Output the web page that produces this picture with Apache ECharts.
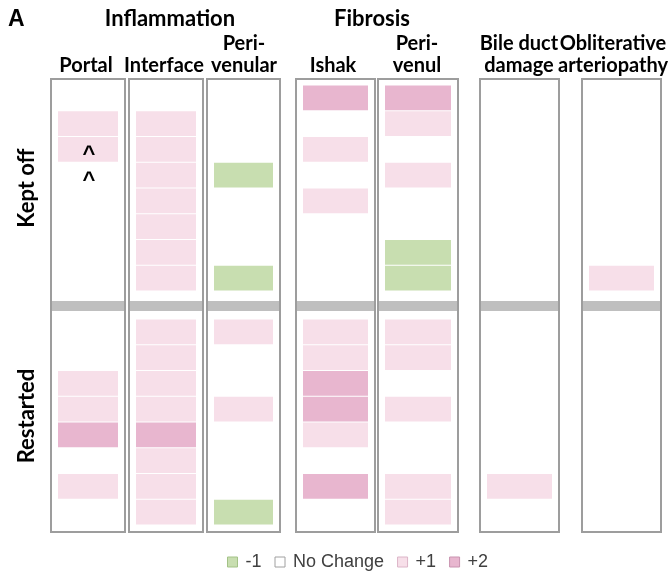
<!DOCTYPE html>
<html>
<head>
<meta charset="utf-8">
<script src="https://cdn.jsdelivr.net/npm/echarts@6/dist/echarts.min.js"></script>
<style>
    html, body { margin: 0; padding: 0; background: #fff; }
    #main { width: 671px; height: 573px; }
</style>
</head>
<body>
<div id="main"></div>
<script>
// 列名
var columns = ['Portal', 'Interface', 'Peri-\nvenular', 'Ishak', 'Peri-\nvenul', 'Bile duct\ndamage', 'Obliterative\narteriopathy'];
var groups = ['Kept off', 'Restarted'];
var levels = ['-1', 'No Change', '+1', '+2'];
var levelValues = [-1, 0, 1, 2];

// 每列每行的变化 (kept off)
var keptOff = [
    [0, 1, 1, 0, 0, 0, 0, 0],
    [0, 1, 1, 1, 1, 1, 1, 1],
    [0, 0, 0, -1, 0, 0, 0, -1],
    [2, 0, 1, 0, 1, 0, 0, 0],
    [2, 1, 0, 1, 0, 0, -1, -1],
    [0, 0, 0, 0, 0, 0, 0, 0],
    [0, 0, 0, 0, 0, 0, 0, 1]
];
// restarted
var restarted = [
    [0, 0, 1, 1, 2, 0, 1, 0],
    [1, 1, 1, 1, 2, 1, 1, 1],
    [1, 0, 0, 1, 0, 0, 0, -1],
    [1, 1, 2, 2, 1, 0, 2, 0],
    [1, 1, 0, 1, 0, 0, 1, 1],
    [0, 0, 0, 0, 0, 0, 1, 0],
    [0, 0, 0, 0, 0, 0, 0, 0]
];
// Portal kept off 的 ^ 标记
var portalNotes = ['', '', '^', '^', '', '', '', ''];

// 布局
var boxLeft = [51, 129, 207, 296, 378, 480, 582];
var boxWidth = [74, 74, 73, 79, 80, 79, 79];
var headerX = [86, 164, 244, 333, 417, 519, 613];
var groupY = [188, 416];
var groupOffset = [0, 9.09];
var bandRange = [8.39, 8.78];
var levelColors = ['#c8deb0', '#ffffff', '#f7dfe9', '#e8b6cf'];
var levelBorders = ['#a3c287', '#a0a0a0', '#dcb5c8', '#c993b0'];
var headFont = 'Lato';

var chart = echarts.init(document.getElementById('main'));

function renderCell(params, api) {
    var cs = params.coordSys;
    var top = api.coord([0, api.value(1)]);
    var bottom = api.coord([0, api.value(1) + 1]);
    return {
        type: 'rect',
        shape: { x: cs.x + 7, y: top[1] + 0.5, width: cs.width - 14, height: bottom[1] - top[1] - 1 },
        style: { fill: api.visual('color') }
    };
}

function renderBand(params, api) {
    var cs = params.coordSys;
    var top = api.coord([0, api.value(1)]);
    var bottom = api.coord([0, api.value(2)]);
    return {
        type: 'rect',
        shape: { x: cs.x + 1, y: top[1], width: cs.width - 2, height: bottom[1] - top[1] },
        style: { fill: '#bfbfbf' }
    };
}

function renderNote(params, api) {
    var p = api.coord([0, api.value(1) + 0.5]);
    return {
        type: 'text',
        style: {
            text: api.value(2),
            x: p[0] + 1, y: p[1] + 6,
            align: 'center', verticalAlign: 'middle',
            font: 'bold 22px "Liberation Sans"',
            fill: '#000'
        }
    };
}

var grids = [], xAxes = [], yAxes = [], series = [];
columns.forEach(function (col, c) {
    grids.push({
        left: boxLeft[c], width: boxWidth[c], top: 79, height: 453,
        show: true, borderColor: '#9d9d9d', borderWidth: 2, backgroundColor: 'transparent'
    });
    xAxes.push({ type: 'category', gridIndex: c, data: [col], show: false });
    yAxes.push({ type: 'value', gridIndex: c, inverse: true, min: -0.233, max: 17.36, show: false });

    series.push({
        type: 'custom', name: 'band', xAxisIndex: c, yAxisIndex: c, silent: true,
        renderItem: renderBand,
        data: [[0, bandRange[0], bandRange[1]]]
    });

    levelValues.forEach(function (lv, k) {
        var data = [];
        [keptOff[c], restarted[c]].forEach(function (rows, g) {
            rows.forEach(function (v, r) {
                if (v === lv) data.push([0, groupOffset[g] + r]);
            });
        });
        series.push({
            type: 'custom', name: levels[k], xAxisIndex: c, yAxisIndex: c,
            itemStyle: { color: levelColors[k] },
            renderItem: renderCell,
            data: data
        });
    });
});

// ^ 标记
series.push({
    type: 'custom', name: 'note', xAxisIndex: 0, yAxisIndex: 0, silent: true, z: 5,
    renderItem: renderNote,
    data: portalNotes.map(function (n, r) { return [0, groupOffset[0] + r, n]; })
        .filter(function (d) { return d[2]; })
});

var graphics = [
    { type: 'text', left: 8, top: 8, style: { text: 'A', font: 'bold 23px "Liberation Sans"', fill: '#000' } },
    { type: 'text', x: 170, y: 19, style: { text: 'Inflammation', font: 'bold 22px ' + headFont, fill: '#000', align: 'center', verticalAlign: 'middle' } },
    { type: 'text', x: 372, y: 19, style: { text: 'Fibrosis', font: 'bold 22px ' + headFont, fill: '#000', align: 'center', verticalAlign: 'middle' } }
];
columns.forEach(function (col, c) {
    graphics.push({
        type: 'text', x: headerX[c], y: 77,
        style: { text: col, font: 'bold 20px ' + headFont, lineHeight: 22, fill: '#000', align: 'center', verticalAlign: 'bottom' }
    });
});
groups.forEach(function (g, i) {
    graphics.push({
        type: 'text', x: 27, y: groupY[i], rotation: Math.PI / 2,
        style: { text: g, font: 'bold 22px ' + headFont, fill: '#000', align: 'center', verticalAlign: 'middle' }
    });
});

var option = {
    animation: false,
    grid: grids,
    xAxis: xAxes,
    yAxis: yAxes,
    legend: {
        data: levels.map(function (l, k) {
            return { name: l, itemStyle: { borderColor: levelBorders[k], borderWidth: 1 } };
        }),
        left: 222, top: 548,
        icon: 'rect',
        itemWidth: 10, itemHeight: 10, itemGap: 13,
        selectedMode: false,
        textStyle: { fontFamily: 'Liberation Sans', fontSize: 18, color: '#404040', padding: [0, 0, 0, 3] }
    },
    graphic: graphics,
    series: series
};
chart.setOption(option);
</script>
</body>
</html>
